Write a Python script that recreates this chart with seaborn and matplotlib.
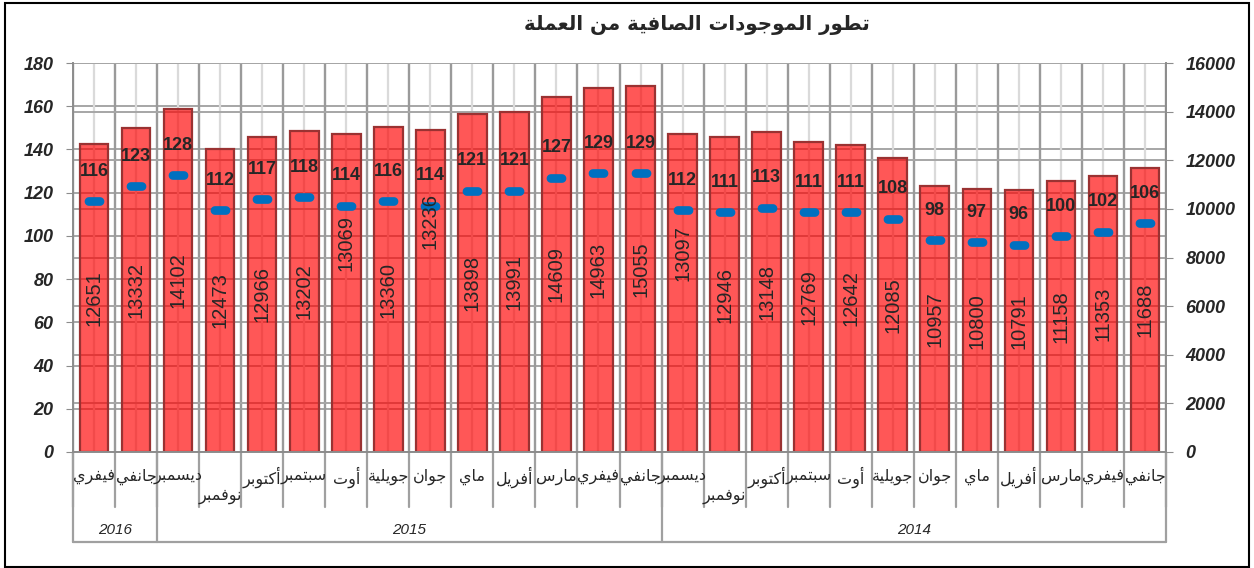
import numpy as np
import pandas as pd
import matplotlib
matplotlib.use("Agg")
import matplotlib.pyplot as plt
from matplotlib.path import Path
from matplotlib.patches import Rectangle
from matplotlib.lines import Line2D
import seaborn as sns

# ---------------- data ----------------
title = "تطور الموجودات الصافية من العملة"
months = ["فيفري", "جانفي", "ديسمبر", "نوفمبر", "أكتوبر", "سبتمبر", "أوت", "جويلية",
          "جوان", "ماي", "أفريل", "مارس", "فيفري", "جانفي", "ديسمبر", "نوفمبر",
          "أكتوبر", "سبتمبر", "أوت", "جويلية", "جوان", "ماي", "أفريل", "مارس",
          "فيفري", "جانفي"]
years = ["2016", "2015", "2014"]
year_counts = [2, 12, 12]
bar_values = [12651, 13332, 14102, 12473, 12966, 13202, 13069, 13360, 13236, 13898,
              13991, 14609, 14963, 15055, 13097, 12946, 13148, 12769, 12642, 12085,
              10957, 10800, 10791, 11158, 11353, 11688]
point_values = [116, 123, 128, 112, 117, 118, 114, 116, 114, 121, 121, 127, 129, 129,
                112, 111, 113, 111, 111, 108, 98, 97, 96, 100, 102, 106]
left_ticks = list(range(0, 181, 20))
right_ticks = list(range(0, 16001, 2000))

# ---------------- simple Arabic shaping (presentation forms) ----------------
AR_FORMS = {
    'ا': (0xFE8D, False), 'أ': (0xFE83, False), 'ب': (0xFE8F, True), 'ة': (0xFE93, False),
    'ت': (0xFE95, True), 'ج': (0xFE9D, True), 'د': (0xFEA9, False), 'ر': (0xFEAD, False),
    'س': (0xFEB1, True), 'ص': (0xFEB9, True), 'ط': (0xFEC1, True), 'ع': (0xFEC9, True),
    'ف': (0xFED1, True), 'ك': (0xFED9, True), 'ل': (0xFEDD, True), 'م': (0xFEE1, True),
    'ن': (0xFEE5, True), 'و': (0xFEED, False), 'ي': (0xFEF1, True),
}


def shape(text):
    chars = list(text)
    out = []
    for i, c in enumerate(chars):
        if c not in AR_FORMS:
            out.append(c)
            continue
        base, dual = AR_FORMS[c]
        prev = chars[i - 1] if i > 0 else None
        nxt = chars[i + 1] if i + 1 < len(chars) else None
        jp = prev in AR_FORMS and AR_FORMS[prev][1]
        jn = dual and (nxt in AR_FORMS)
        if jp and jn:
            f = base + 3
        elif jp:
            f = base + 1
        elif jn:
            f = base + 2
        else:
            f = base
        out.append(chr(f))
    return "".join(reversed(out))


# stadium-shaped dash marker
def dash_marker(ratio=0.44):
    r = ratio
    t1 = np.linspace(-np.pi / 2, np.pi / 2, 12)
    t2 = np.linspace(np.pi / 2, 3 * np.pi / 2, 12)
    right = np.column_stack([(1 - r) + r * np.cos(t1), r * np.sin(t1)])
    left = np.column_stack([-(1 - r) + r * np.cos(t2), r * np.sin(t2)])
    verts = np.vstack([right, left, right[:1]])
    codes = [Path.MOVETO] + [Path.LINETO] * (len(verts) - 2) + [Path.CLOSEPOLY]
    return Path(verts, codes)


# ---------------- figure ----------------
sns.set_style("white")
plt.rcParams['font.family'] = ['Liberation Sans', 'DejaVu Sans']

W, H = 1254, 568
fig = plt.figure(figsize=(W / 100, H / 100), dpi=100)
ax_l, ax_r, ax_t, ax_b = 73, 1166, 63, 452
ax = fig.add_axes([ax_l / W, 1 - ax_b / H, (ax_r - ax_l) / W, (ax_b - ax_t) / H])
ax_h = ax_b - ax_t

n = len(bar_values)
pos = np.arange(n)
df = pd.DataFrame({"pos": pos, "value": bar_values, "point": point_values})

sns.barplot(data=df, x="pos", y="value", ax=ax, color="red", width=0.68,
            saturation=1, zorder=2)
for p in ax.patches:
    p.set_facecolor((1.0, 0.0, 0.0, 0.66))
    p.set_edgecolor("#9A3232")
    p.set_linewidth(1.6)

ax.set_xlim(-0.5, n - 0.5)
ax.set_ylim(0, 16000)
ax.set_xlabel("")
ax.set_ylabel("")

# points on left scale
ax2 = ax.twinx()
sns.scatterplot(data=df, x="pos", y="point", ax=ax2, marker=dash_marker(), s=200,
                color="#0070C0", linewidth=0, zorder=3, legend=False)
ax2.set_ylim(0, 180)
ax2.set_xlim(-0.5, n - 0.5)
ax2.set_ylabel("")
ax2.set_xlabel("")
for s in ax2.spines.values():
    s.set_visible(False)

# axis sides: bars' scale on the right, points' scale on the left
ax.yaxis.tick_right()
ax.yaxis.set_label_position("right")
ax2.yaxis.tick_left()
ax2.yaxis.set_label_position("left")

ax.set_yticks(right_ticks)
ax.set_yticklabels([str(t) for t in right_ticks], fontsize=13, fontweight="bold",
                   fontstyle="italic", family="Liberation Sans")
ax.tick_params(axis="y", direction="out", length=5, color="#8C8C8C", pad=9)
ax2.set_yticks(left_ticks)
ax2.set_yticklabels([str(t) for t in left_ticks], fontsize=13, fontweight="bold",
                    fontstyle="italic", family="Liberation Sans")
ax2.tick_params(axis="y", direction="out", length=5, color="#8C8C8C", pad=9)
ax2.tick_params(axis="x", which="both", length=0, labelbottom=False)

# grids
ax.set_axisbelow(True)
ax.set_xticks(np.arange(-0.5, n, 1.0))
ax.set_xticklabels([])
ax.set_xticks(pos, minor=True)
ax.tick_params(axis="x", which="major", length=0)
ax.tick_params(axis="x", which="minor", length=4, color="#8C8C8C", direction="out")
ax.grid(axis="y", which="major", color="#A6A6A6", lw=1.4, zorder=0.5)
ax.grid(axis="x", which="major", color="#9A9A9A", lw=1.7, zorder=0.5)
ax.grid(axis="x", which="minor", color="#DADADA", lw=1.6, zorder=0.4)
for v in left_ticks[1:]:
    ax.axhline(v * 16000 / 180, color="#A6A6A6", lw=1.4, zorder=0.5)

ax.spines["top"].set_visible(False)
for s in ["left", "right", "bottom"]:
    ax.spines[s].set_color("#8C8C8C")
    ax.spines[s].set_linewidth(1.4)

for x, v in zip(pos, point_values):
    ax2.annotate(str(v), (x, v), xytext=(0, 21.5), textcoords="offset points",
                 ha="center", va="center", fontsize=13, fontweight="bold",
                 family="Liberation Sans", zorder=5)

# bar value labels (vertical, centered in bar; a few shifted upward as in source)
shift_px = {6: 50, 8: 70, 14: 40}
for x, v in zip(pos, bar_values):
    ax2.annotate(str(v), (x, v / 2), xycoords=ax.transData,
                 xytext=(0, shift_px.get(x, 0) * 0.72), textcoords="offset points",
                 ha="center", va="center", rotation=90, fontsize=14.5,
                 family="Liberation Sans", zorder=6)

# category area below the axis
xt = ax.get_xaxis_transform()
cat_depth = 55 / ax_h
year_depth = 90 / ax_h
for b in np.arange(-0.5, n, 1.0):
    ax.add_line(Line2D([b, b], [0, -cat_depth], transform=xt, color="#A0A0A0",
                       lw=1.6, clip_on=False))
bounds = np.concatenate([[0], np.cumsum(year_counts)]) - 0.5
for b in bounds:
    ax.add_line(Line2D([b, b], [0, -year_depth], transform=xt, color="#A0A0A0",
                       lw=1.6, clip_on=False))
ax.add_line(Line2D([-0.5, n - 0.5], [-year_depth, -year_depth], transform=xt,
                   color="#A0A0A0", lw=1.6, clip_on=False))

for x, m in zip(pos, months):
    yoff = 45 if m == "نوفمبر" else 25
    ax.text(x, -yoff / ax_h, shape(m), transform=xt, ha="center", va="center",
            fontsize=11.5, family="DejaVu Sans", clip_on=False)

for i, (y, c) in enumerate(zip(years, year_counts)):
    center = (bounds[i] + bounds[i + 1]) / 2
    ax.text(center, -78 / ax_h, y, transform=xt, ha="center", va="center",
            fontsize=11, fontstyle="italic", family="Liberation Sans", clip_on=False)

# title
fig.text(697 / W, 1 - 25 / H, shape(title), ha="center", va="center",
         fontsize=14.2, fontweight="bold", family="DejaVu Sans")

# figure border
fig.add_artist(Rectangle((5 / W, 1 - 567 / H), 1244 / W, 564 / H, transform=fig.transFigure,
                         fill=False, edgecolor="black", lw=1.5))

fig.savefig("out.png", dpi=100)
